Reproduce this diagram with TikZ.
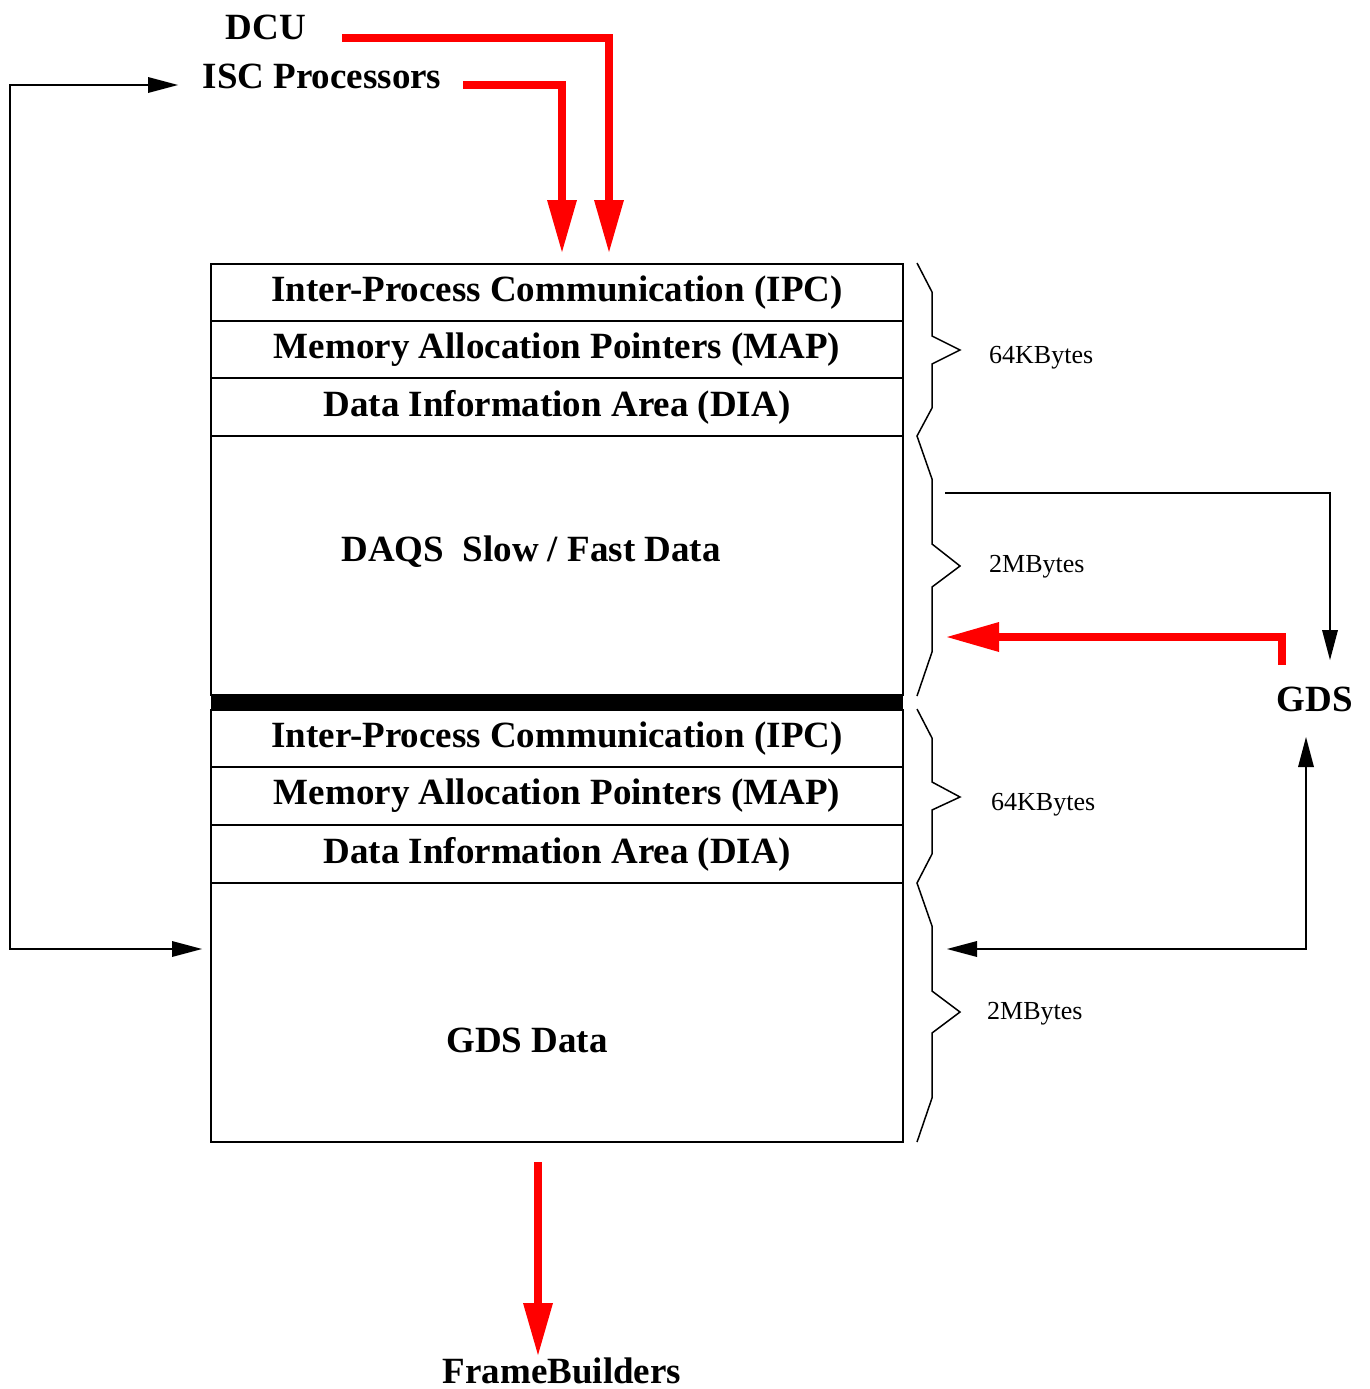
\documentclass[tikz,border=0pt]{standalone}
\usepackage{fontspec}
\setmainfont{Liberation Serif}
\usetikzlibrary{arrows.meta}
\begin{document}
\begin{tikzpicture}[x=1pt,y=-1pt,
  big/.style={font=\bfseries\fontsize{37}{44}\selectfont, inner sep=0pt},
  small/.style={font=\fontsize{26}{30}\selectfont, inner sep=0pt, anchor=west},
  cell/.style={draw, line width=1.7pt, minimum width=692pt, inner sep=0pt,
    font=\bfseries\fontsize{37}{44}\selectfont},
  redarr/.style={red, line width=8pt, -{Triangle[length=52pt,width=30pt,line width=0pt]}},
  blkarr/.style={black, line width=2.2pt, -{Triangle[length=30pt,width=16pt,line width=0pt]}},
  blkboth/.style={black, line width=2.2pt, {Triangle[length=30pt,width=16pt,line width=0pt]}-{Triangle[length=30pt,width=16pt,line width=0pt]}},
  bracestyle/.style={line width=1.5pt, line join=miter}
]
\useasboundingbox (0,0) rectangle (1369,1389);
\fill[white] (0,0) rectangle (1369,1389);

% upper memory block
\node[cell, minimum height=57pt] (ipcA) at (557,292.5) {Inter-Process Communication (IPC)};
\node[cell, minimum height=57pt] (mapA) at (557,349.5) {Memory Allocation Pointers (MAP)};
\node[cell, minimum height=58pt] (diaA) at (557,407) {Data Information Area (DIA)};
\node[cell, minimum height=259pt] (daqsA) at (557,565.5) {};
\node[big] (daqsT) at (531,552) {DAQS\ \ Slow / Fast Data};
\node[fill=black, minimum width=692pt, minimum height=15pt, inner sep=0pt] (bar) at (557,702.5) {};

% lower memory block
\node[cell, minimum height=57pt] (ipcB) at (557,738.5) {Inter-Process Communication (IPC)};
\node[cell, minimum height=58pt] (mapB) at (557,796) {Memory Allocation Pointers (MAP)};
\node[cell, minimum height=58pt] (diaB) at (557,854) {Data Information Area (DIA)};
\node[cell, minimum height=259pt] (gdsA) at (557,1012.5) {};
\node[big] (gdsT) at (527,1040) {GDS Data};

% braces
\draw[bracestyle] (917,263) -- (932,292) -- (932,336) -- (960,350) -- (932,364) -- (932,408) -- (917,436)
  -- (932,479) -- (932,544) -- (960,566) -- (932,587) -- (932,652) -- (917,696);
\draw[bracestyle] (917,709) -- (932,738) -- (932,782) -- (960,797) -- (932,810) -- (932,854) -- (917,883)
  -- (932,926) -- (932,991) -- (960,1012) -- (932,1033) -- (932,1098) -- (917,1142);

\node[small] (k1) at (989,358) {64KBytes};
\node[small] (m1) at (989,567) {2MBytes};
\node[small] (k2) at (991,805) {64KBytes};
\node[small] (m2) at (987,1014) {2MBytes};

% outer labels
\node[big] (dcu) at (266,27) {DCU};
\node[big] (isc) at (322,76) {ISC Processors};
\node[big] (gds) at (1315,699) {GDS};
\node[big] (fb) at (562,1371) {FrameBuilders};

% connector end points
\coordinate (dcuout) at (342,38);
\coordinate (dcuin) at (609,252);
\coordinate (iscout) at (463,85);
\coordinate (iscin) at (562,252);
\coordinate (iscarr) at (178,85);
\coordinate (leftup) at (10,85);
\coordinate (leftdn) at (10,949);
\coordinate (gdsdatain) at (202,949);
\coordinate (daqsout) at (945,493);
\coordinate (gdstop) at (1330,660);
\coordinate (gdsred) at (1282,665);
\coordinate (daqsin) at (947,637);
\coordinate (gdsbot) at (1306,737);
\coordinate (gdsdataR) at (947,949);
\coordinate (fbout) at (538,1162);
\coordinate (fbin) at (538,1355);

% red connectors
\draw[redarr] (dcuout) -| (dcuin);
\draw[redarr] (iscout) -| (iscin);
\draw[redarr] (gdsred) |- (daqsin);
\draw[redarr] (fbout) -- (fbin);

% black connectors
\draw[blkboth] (iscarr) -- (leftup) -- (leftdn) -- (gdsdatain);
\draw[blkarr] (daqsout) -| (gdstop);
\draw[blkboth] (gdsbot) |- (gdsdataR);
\end{tikzpicture}
\end{document}
